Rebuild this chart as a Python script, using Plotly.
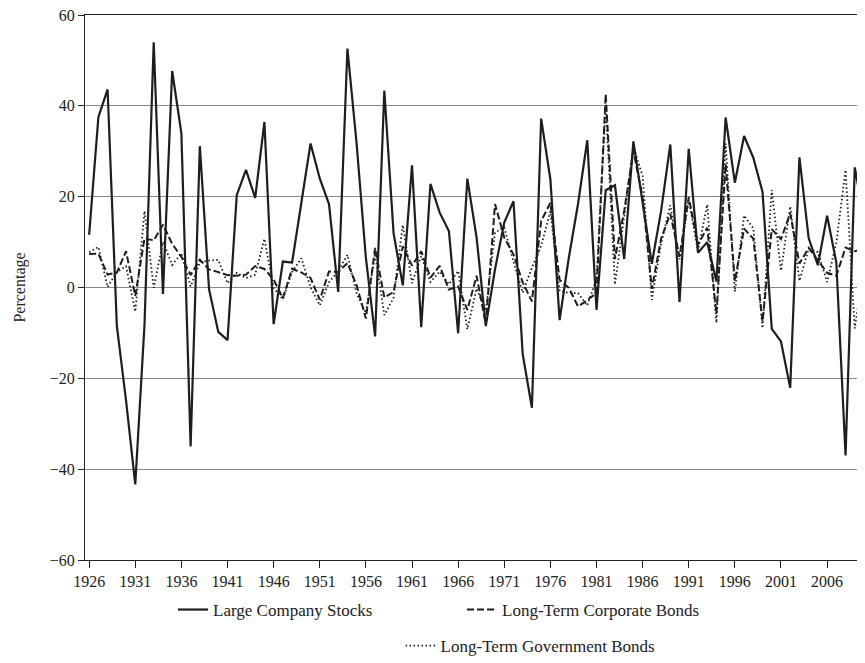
import plotly.graph_objects as go

years = list(range(1926, 2011))

large_company_stocks = [
    11.62, 37.49, 43.61, -8.42, -24.90, -43.34, -8.19, 53.99, -1.44, 47.67,
    33.92, -35.03, 31.12, -0.41, -9.78, -11.59, 20.34, 25.90, 19.75, 36.44,
    -8.07, 5.71, 5.50, 18.79, 31.71, 24.02, 18.37, -0.99, 52.62, 31.56,
    6.56, -10.78, 43.36, 11.96, 0.47, 26.89, -8.73, 22.80, 16.48, 12.45,
    -10.06, 23.98, 11.06, -8.50, 4.01, 14.31, 18.98, -14.66, -26.47, 37.20,
    23.84, -7.18, 6.56, 18.44, 32.42, -4.91, 21.41, 22.51, 6.27, 32.16,
    18.47, 5.23, 16.81, 31.49, -3.17, 30.55, 7.67, 9.99, 1.31, 37.43,
    23.07, 33.36, 28.58, 21.04, -9.11, -11.88, -22.10, 28.68, 10.88, 4.91,
    15.79, 5.49, -37.00, 26.46, 15.06,
]

long_term_corporate_bonds = [
    7.37, 7.44, 2.84, 3.27, 7.98, -1.85, 10.82, 10.38, 13.84, 9.61,
    6.74, 2.75, 6.13, 3.97, 3.39, 2.73, 2.60, 2.83, 4.73, 4.08,
    1.72, -2.34, 4.14, 3.31, 2.12, -2.69, 3.52, 3.41, 5.39, 0.48,
    -6.81, 8.71, -2.22, -0.97, 9.07, 4.82, 7.95, 2.19, 4.77, -0.46,
    0.20, -4.95, 2.57, -8.09, 18.37, 11.01, 7.26, 1.14, -3.06, 14.64,
    18.65, 1.71, -0.07, -4.18, -2.76, -1.24, 42.56, 6.26, 16.86, 30.09,
    19.85, -0.27, 10.70, 16.23, 6.78, 19.89, 9.39, 13.19, -5.76, 27.20,
    1.40, 12.95, 10.76, -7.45, 12.87, 10.65, 16.33, 5.27, 8.72, 5.87,
    3.24, 2.60, 8.78, 8.0, 8.4,
]

long_term_government_bonds = [
    7.77, 8.93, 0.10, 3.42, 4.66, -5.31, 16.84, -0.07, 10.03, 4.98,
    7.52, 0.23, 5.53, 5.94, 6.09, 0.93, 3.22, 2.08, 2.81, 10.73,
    -0.10, -2.62, 3.40, 6.45, 0.06, -3.93, 1.16, 3.64, 7.19, -1.29,
    -5.59, 7.46, -6.09, -2.26, 13.78, 0.97, 6.89, 1.21, 3.51, 0.71,
    3.65, -9.18, -0.26, -5.07, 12.11, 13.23, 5.69, -1.11, 4.35, 9.20,
    16.75, -0.69, -1.18, -1.23, -3.95, 1.86, 40.36, 0.65, 15.48, 30.97,
    24.53, -2.71, 9.67, 18.11, 6.18, 19.30, 8.05, 18.24, -7.77, 31.67,
    -0.93, 15.85, 13.06, -8.96, 21.48, 3.70, 17.84, 1.45, 8.51, 7.81,
    1.19, 9.88, 25.87, -9.0, 5.0,
]

x_tick_years = list(range(1926, 2007, 5))
y_tick_values = [-60, -40, -20, 0, 20, 40, 60]

FONT = "Liberation Serif, Times New Roman, serif"
INK = "#1e1e1e"
TXT = "#222"

fig = go.Figure()
fig.add_trace(go.Scatter(
    x=years, y=large_company_stocks, mode="lines",
    name="Large Company Stocks",
    line=dict(color=INK, width=2.2),
    legend="legend",
))
fig.add_trace(go.Scatter(
    x=years, y=long_term_corporate_bonds, mode="lines",
    name="Long-Term Corporate Bonds",
    line=dict(color=INK, width=2, dash="7px,3px"),
    legend="legend",
))
fig.add_trace(go.Scatter(
    x=years, y=long_term_government_bonds, mode="lines",
    name="Long-Term Government Bonds",
    line=dict(color=INK, width=1.8, dash="1.5px,2.5px"),
    legend="legend2",
))

# page body has an 8px default margin; figure size/margins compensate for it
fig.update_layout(
    width=857, height=655,
    margin=dict(l=77, r=1, t=7, b=103),
    paper_bgcolor="white", plot_bgcolor="white",
    font=dict(family=FONT, size=16, color=TXT),
    showlegend=True,
    legend=dict(
        orientation="h", x=0.484, xanchor="center",
        yref="container", y=0.1084, yanchor="top",
        font=dict(family=FONT, size=17, color=TXT),
        entrywidth=244, bgcolor="rgba(0,0,0,0)",
    ),
    legend2=dict(
        orientation="h", x=0.572, xanchor="center",
        yref="container", y=0.0534, yanchor="top",
        font=dict(family=FONT, size=17, color=TXT),
        bgcolor="rgba(0,0,0,0)",
    ),
)

fig.update_xaxes(
    range=[1925.55, 2010],
    tickmode="array", tickvals=x_tick_years, ticktext=[str(y) for y in x_tick_years],
    ticks="outside", ticklen=7, tickcolor=TXT, tickwidth=1,
    showline=True, linecolor=TXT, linewidth=1.2, mirror=True,
    showgrid=False, zeroline=False, automargin=False,
    tickfont=dict(family=FONT, size=16, color=TXT),
)
fig.update_yaxes(
    range=[-60, 60],
    tickmode="array", tickvals=y_tick_values,
    ticks="outside", ticklen=6, tickcolor=TXT, tickwidth=1,
    showline=True, linecolor=TXT, linewidth=1.2,
    showgrid=True, gridcolor="#8a8a8a", gridwidth=1,
    zeroline=False, automargin=False, ticklabeloverflow="allow",
    title=dict(text="Percentage", font=dict(family=FONT, size=16, color=TXT), standoff=20),
    tickfont=dict(family=FONT, size=16, color=TXT),
)

fig.write_html("out.html")
